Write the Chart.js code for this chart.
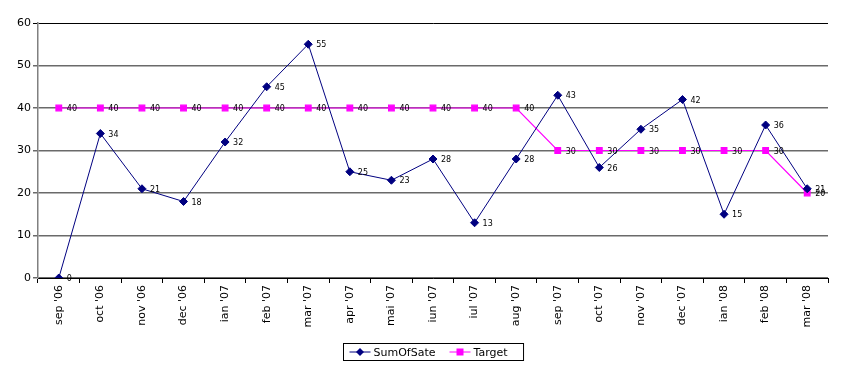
<!DOCTYPE html>
<html>
<head>
<meta charset="utf-8">
<script src="https://cdn.jsdelivr.net/npm/chart.js@4.4.0/dist/chart.umd.min.js"></script>
<style>
	html, body { margin: 0; padding: 0; background: #fff; }
	#wrap { width: 859px; height: 392px; }
</style>
</head>
<body>
<div id="wrap"><canvas id="mainChart" width="859" height="392"></canvas></div>
<script>
const months = [
	"sep '06", "oct '06", "nov '06", "dec '06", "ian '07", "feb '07", "mar '07",
	"apr '07", "mai '07", "iun '07", "iul '07", "aug '07", "sep '07", "oct '07",
	"nov '07", "dec '07", "ian '08", "feb '08", "mar '08",
];
const sumOfSate = [0, 34, 21, 18, 32, 45, 55, 25, 23, 28, 13, 28, 43, 26, 35, 42, 15, 36, 21];
const target = [40, 40, 40, 40, 40, 40, 40, 40, 40, 40, 40, 40, 30, 30, 30, 30, 30, 30, 20];
const yTicks = [0, 10, 20, 30, 40, 50, 60];

const FONT = 'DejaVu Sans';

// value labels to the right of every point
const pointLabels = {
	id: 'pointLabels',
	afterDatasetsDraw(chart) {
		const ctx = chart.ctx;
		ctx.save();
		ctx.font = '8px ' + FONT;
		ctx.fillStyle = '#000';
		ctx.textAlign = 'left';
		ctx.textBaseline = 'middle';
		chart.data.datasets.forEach((ds, i) => {
			chart.getDatasetMeta(i).data.forEach((pt, j) => {
				ctx.fillText(String(ds.data[j]), pt.x + 8, pt.y + 1);
			});
		});
		ctx.restore();
	},
};

// excel style legend: line + marker, framed box
const boxLegend = {
	id: 'boxLegend',
	afterDraw(chart) {
		const ctx = chart.ctx;
		ctx.save();
		ctx.font = '11px ' + FONT;
		const items = chart.data.datasets.map((ds) => ({
			ds: ds,
			w: 30 + ctx.measureText(ds.label).width,
		}));
		const gap = 8;
		let total = 8;
		items.forEach((it) => (total += it.w + gap));
		const x0 = Math.round(433 - total / 2) + 0.5;
		const y0 = 343.5;
		const h = 17;
		ctx.strokeStyle = '#000';
		ctx.lineWidth = 1;
		ctx.strokeRect(x0, y0, total, h);
		let x = x0 + 6;
		const cy = y0 + h / 2;
		items.forEach((it) => {
			const ds = it.ds;
			ctx.strokeStyle = ds.borderColor;
			ctx.lineWidth = 1;
			ctx.beginPath();
			ctx.moveTo(x, cy);
			ctx.lineTo(x + 21, cy);
			ctx.stroke();
			ctx.fillStyle = ds.pointBackgroundColor;
			const mx = x + 10.5;
			if (ds.pointStyle === 'rect') {
				ctx.fillRect(mx - 3.5, cy - 3.5, 7, 7);
			} else {
				ctx.beginPath();
				ctx.moveTo(mx, cy - 4);
				ctx.lineTo(mx + 4, cy);
				ctx.lineTo(mx, cy + 4);
				ctx.lineTo(mx - 4, cy);
				ctx.closePath();
				ctx.fill();
			}
			ctx.fillStyle = '#000';
			ctx.textAlign = 'left';
			ctx.textBaseline = 'middle';
			ctx.fillText(ds.label, x + 24, cy + 1);
			x += it.w + gap;
		});
		ctx.restore();
	},
};

new Chart(document.getElementById('mainChart'), {
	type: 'line',
	data: {
		labels: months,
		datasets: [
			{
				label: 'SumOfSate',
				data: sumOfSate,
				borderColor: '#000080',
				backgroundColor: '#000080',
				pointBackgroundColor: '#000080',
				pointBorderColor: '#000080',
				pointStyle: 'rectRot',
				pointRadius: 4,
				borderWidth: 1,
				tension: 0,
				order: 1,
			},
			{
				label: 'Target',
				data: target,
				borderColor: '#ff00ff',
				backgroundColor: '#ff00ff',
				pointBackgroundColor: '#ff00ff',
				pointBorderColor: '#ff00ff',
				pointStyle: 'rect',
				pointRadius: 4,
				borderWidth: 1.2,
				tension: 0,
				order: 2,
			},
		],
	},
	options: {
		responsive: false,
		animation: false,
		layout: { padding: { top: 23, right: 31, left: 0, bottom: 0 } },
		plugins: {
			legend: { display: false },
			tooltip: { enabled: false },
		},
		scales: {
			x: {
				offset: true,
				afterFit(scale) {
					scale.height = 114;
				},
				grid: {
					offset: true,
					drawOnChartArea: false,
					drawTicks: true,
					tickLength: 5,
					color: '#000',
				},
				border: { color: '#000', width: 1 },
				ticks: {
					autoSkip: false,
					minRotation: 90,
					maxRotation: 90,
					padding: 2,
					color: '#000',
					font: { family: FONT, size: 11 },
				},
			},
			y: {
				min: 0,
				max: 60,
				afterFit(scale) {
					scale.width = 38;
				},
				afterBuildTicks(scale) {
					scale.ticks = yTicks.map((v) => ({ value: v }));
				},
				grid: {
					color: (c) => (c.tick && c.tick.value === 60 ? '#000' : '#6a6a6a'),
					lineWidth: (c) => (c.tick && c.tick.value === 60 ? 1 : 1.5),
					drawTicks: true,
					tickLength: 5,
				},
				border: { color: '#808080', width: 1.5 },
				ticks: {
					padding: 2,
					color: '#000',
					font: { family: FONT, size: 11 },
				},
			},
		},
	},
	plugins: [pointLabels, boxLegend],
});
</script>
</body>
</html>
